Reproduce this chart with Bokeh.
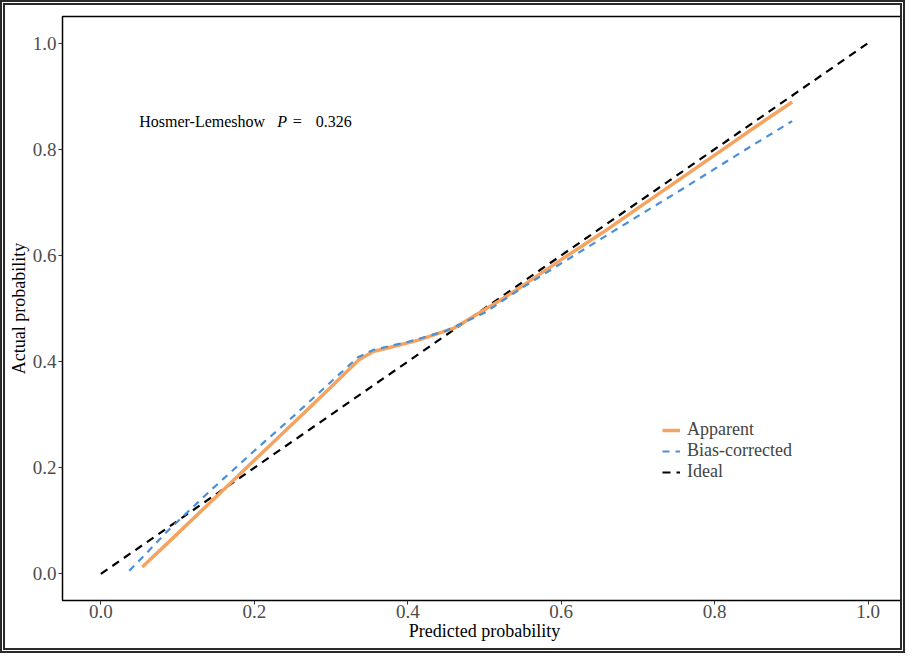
from bokeh.plotting import figure
from bokeh.models import Range1d, FixedTicker, PrintfTickFormatter, Legend, LegendItem
from bokeh.core.properties import value
from bokeh.embed import file_html
from bokeh.resources import INLINE

# ---- data ----
apparent_x = [0.054, 0.10, 0.15, 0.20, 0.263, 0.30, 0.336, 0.355, 0.38, 0.415, 0.46, 0.52,
              0.55, 0.60, 0.654, 0.70, 0.75, 0.80, 0.85, 0.901]
apparent_y = [0.013, 0.076, 0.145, 0.214, 0.301, 0.352, 0.403, 0.419, 0.428, 0.441, 0.463, 0.515,
              0.543, 0.592, 0.643, 0.689, 0.739, 0.789, 0.839, 0.889]

bias_x = [0.037, 0.06, 0.087, 0.142, 0.20, 0.254, 0.30, 0.335, 0.355, 0.40, 0.45, 0.50,
          0.55, 0.60, 0.654, 0.70, 0.75, 0.80, 0.85, 0.901]
bias_y = [0.006, 0.040, 0.081, 0.156, 0.232, 0.301, 0.362, 0.408, 0.422, 0.437, 0.458, 0.492,
          0.540, 0.585, 0.633, 0.674, 0.718, 0.763, 0.808, 0.853]

ideal_x = [0.0, 1.0]
ideal_y = [0.0, 1.0]

ticks = [0.0, 0.2, 0.4, 0.6, 0.8, 1.0]
series_names = ["Apparent", "Bias-corrected", "Ideal"]
hl_label = "Hosmer-Lemeshow"
hl_p = "P"
hl_value = "0.326"

FONT = "Liberation Serif"
ORANGE = "#F4A460"
BLUE = "#4A8FD8"

p = figure(width=905, height=653, output_backend="svg", toolbar_location=None,
           x_range=Range1d(-0.05, 1.05), y_range=Range1d(-0.05, 1.05),
           min_border_left=51, min_border_right=4, min_border_top=11, min_border_bottom=58)
p.styles = {"border": "5px double #2a2a2a", "box-sizing": "border-box"}

p.xgrid.visible = False
p.ygrid.visible = False
p.outline_line_color = "black"
p.outline_line_width = 1.5
p.background_fill_color = "white"
p.border_fill_color = "white"

for ax in (p.xaxis[0], p.yaxis[0]):
    ax.ticker = FixedTicker(ticks=ticks)
    ax.formatter = PrintfTickFormatter(format="%.1f")
    ax.minor_tick_line_color = None
    ax.major_tick_in = 0
    ax.major_tick_out = 4
    ax.major_tick_line_color = "#333333"
    ax.axis_line_color = "black"
    ax.major_label_text_font = FONT
    ax.major_label_text_font_size = "19px"
    ax.major_label_text_color = "#4D4D4D"
    ax.axis_label_text_font = FONT
    ax.axis_label_text_font_size = "18px"
    ax.axis_label_text_font_style = "normal"
    ax.axis_label_text_color = "black"

p.xaxis.axis_label = "Predicted probability"
p.yaxis.axis_label = "Actual probability"
p.xaxis.major_label_standoff = 0
p.yaxis.major_label_standoff = 2
p.xaxis.axis_label_standoff = 0
p.yaxis.axis_label_standoff = 1

r_ideal = p.line(ideal_x, ideal_y, line_color="black", line_width=2.2, line_dash="8 6")
r_app = p.line(apparent_x, apparent_y, line_color=ORANGE, line_width=3.5)
r_bias = p.line(bias_x, bias_y, line_color=BLUE, line_width=2.2, line_dash="7 6")

# annotation
p.text(x=[0.050], y=[0.852], text=[hl_label], text_font=value(FONT), text_font_size="16px",
       text_baseline="middle", text_color="black")
p.text(x=[0.230], y=[0.852], text=[hl_p], text_font=value(FONT), text_font_size="16px",
       text_font_style="italic", text_baseline="middle", text_color="black")
p.text(x=[0.250], y=[0.852], text=["="], text_font=value(FONT), text_font_size="16px",
       text_baseline="middle", text_color="black")
p.text(x=[0.280], y=[0.852], text=[hl_value], text_font=value(FONT), text_font_size="16px",
       text_baseline="middle", text_color="black")

legend = Legend(items=[LegendItem(label=series_names[0], renderers=[r_app]),
                       LegendItem(label=series_names[1], renderers=[r_bias]),
                       LegendItem(label=series_names[2], renderers=[r_ideal])],
                location=(600, 118))
legend.border_line_color = None
legend.background_fill_alpha = 0
legend.padding = 0
legend.margin = 0
legend.spacing = 0
legend.glyph_width = 18
legend.glyph_height = 14
legend.label_height = 14
legend.label_standoff = 7
legend.label_text_font = FONT
legend.label_text_font_size = "18px"
legend.label_text_line_height = 0.75
legend.label_text_baseline = "middle"
p.add_layout(legend, "center")

open("out.html", "w").write(file_html(p, INLINE))
